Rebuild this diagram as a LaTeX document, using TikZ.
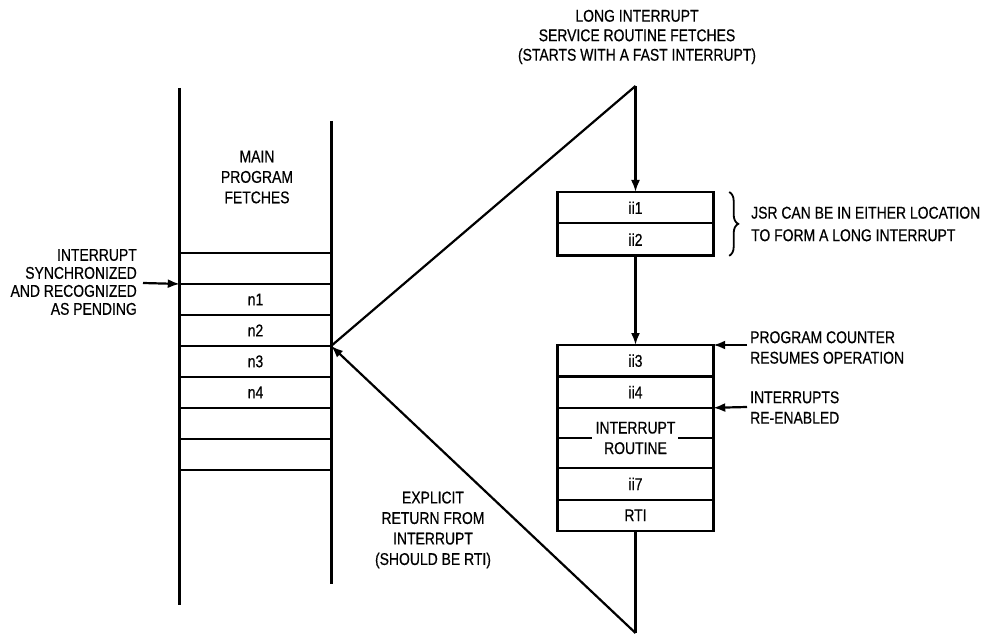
\documentclass[tikz,border=0pt]{standalone}
\usepackage{fontspec}
\setmainfont{Liberation Sans}[FakeStretch=0.82,FakeBold=0.5]
\usetikzlibrary{arrows.meta,decorations.pathreplacing}
\begin{document}
\begin{tikzpicture}[x=1pt,y=-1pt,
  txt/.style={font=\fontsize{17}{20.5}\selectfont, inner sep=0pt, align=center},
  lcell/.style={txt, minimum width=151pt, minimum height=30.57pt, anchor=north},
  rcell/.style={txt, minimum width=155pt, minimum height=#1, anchor=north},
  rcell/.default=31pt,
  col/.style={line width=3pt},
  div/.style={line width=2.2pt},
  box/.style={line width=2.8pt},
  conn/.style={line width=2.2pt},
  tip/.style={-{Latex[length=12pt,width=9pt]}}]
\useasboundingbox (0,0) rectangle (998,636);
% left column
\node[lcell] (e1) at (255.5,253) {};
\node[lcell] (n1) at (e1.south) {n1};
\node[lcell] (n2) at (n1.south) {n2};
\node[lcell] (n3) at (n2.south) {n3};
\node[lcell] (n4) at (n3.south) {n4};
\node[lcell] (e2) at (n4.south) {};
\node[lcell] (e3) at (e2.south) {};
\foreach \c in {e1,n1,n2,n3,n4,e2,e3}
  \draw[div] (\c.north west) -- (\c.north east);
\draw[div] (e3.south west) -- (e3.south east);
\draw[col] (e1.north west |- 0,88) -- (e1.north west |- 0,605);
\draw[col] (e1.north east |- 0,121) -- (e1.north east |- 0,584);
\node[txt] (main) at (257,177) {MAIN\\PROGRAM\\FETCHES};
% interrupt label
\node[txt, font=\fontsize{17}{18}\selectfont, align=right, anchor=east] (intr) at (137,282)
  {INTERRUPT\\SYNCHRONIZED\\AND RECOGNIZED\\AS PENDING};
\coordinate (ia) at (143,283);
\draw[conn,tip] (ia) -- (n1.north west);
% right boxes
\node[rcell] (ii1) at (635.5,192) {ii1};
\node[rcell=32pt] (ii2) at (ii1.south) {ii2};
\draw[div] (ii2.north west) -- (ii2.north east);
\draw[box] (ii1.north west) rectangle (ii2.south east);
\node[rcell] (ii3) at (635.5,345) {ii3};
\node[rcell] (ii4) at (ii3.south) {ii4};
\node[rcell=60pt] (rout) at (ii4.south) {INTERRUPT\\ROUTINE};
\node[rcell] (ii7) at (rout.south) {ii7};
\node[rcell] (rti) at (ii7.south) {RTI};
\foreach \c in {ii4,rout,ii7,rti}
  \draw[div] (\c.north west) -- (\c.north east);
\draw[div] (rout.west) -- ++(34,0);
\draw[div] (rout.east) -- ++(-35,0);
\draw[box] (ii3.north west) rectangle (rti.south east);
% brace
\draw[line width=1.8pt, decorate, decoration={brace, amplitude=9pt}]
  ([xshift=16pt]ii1.north east) -- ([xshift=16pt]ii2.south east);
\node[txt, align=left, anchor=west, font=\fontsize{17}{22.5}\selectfont] (jsr) at (751,224)
  {JSR CAN BE IN EITHER LOCATION\\TO FORM A LONG INTERRUPT};
% top label
\node[txt, font=\fontsize{17}{19.5}\selectfont] (top label) at (637,37)
  {LONG INTERRUPT\\SERVICE ROUTINE FETCHES\\(STARTS WITH A FAST INTERRUPT)};
% triangle connectors
\coordinate (apex) at (ii1.north |- 0,86);
\coordinate (bot) at (rti.south |- 0,633);
\draw[conn] (n2.south east) -- (apex);
\draw[conn,tip] (apex) -- (ii1.north);
\draw[conn,tip] (ii2.south) -- (ii3.north);
\draw[conn] (rti.south) -- (bot);
\draw[conn,tip] (bot) -- (n3.north east);
% right labels
\coordinate (pca) at (747,345);
\draw[conn,tip] (pca) -- (ii3.north east);
\node[txt, align=left, anchor=west] (pc) at (750,347.5) {PROGRAM COUNTER\\RESUMES OPERATION};
\coordinate (iea) at (747,407);
\draw[conn,tip] (iea) -- (ii4.south east);
\node[txt, align=left, anchor=west] (ie) at (750,407.5) {INTERRUPTS\\RE-ENABLED};
% return label
\node[txt] (ret) at (433,530) {EXPLICIT\\RETURN FROM\\INTERRUPT\\(SHOULD BE RTI)};
\end{tikzpicture}
\end{document}
